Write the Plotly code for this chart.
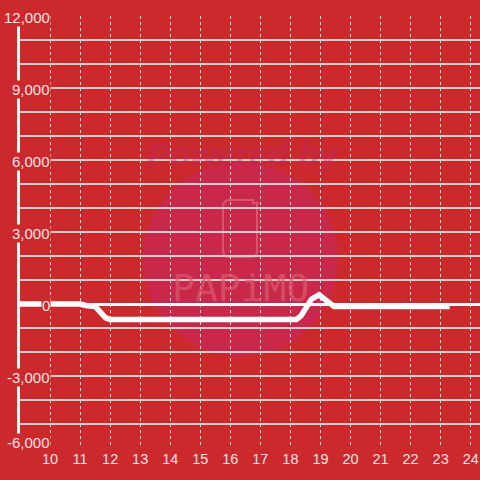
import plotly.graph_objects as go

# hour of day vs. balance
hours = [9.0, 10.0, 11.0, 11.2, 11.5, 11.85, 12.0, 13.0, 14.0, 15.0, 16.0, 17.0, 18.0, 18.2,
         18.35, 18.7, 18.95, 19.45, 20.0, 21.0, 22.0, 23.0, 23.3]
balance = [0, 0, 0, -60, -100, -580, -650, -650, -650, -650, -650, -650, -650, -650,
           -500, 200, 380, -100, -100, -100, -100, -100, -100]

x_ticks = list(range(10, 25))
y_ticks = [-6000, -3000, 0, 3000, 6000, 9000, 12000]

bg = "#cc292d"
txt = "#f3e4e4"

fig = go.Figure()
fig.add_trace(go.Scatter(x=hours, y=balance, mode="lines",
                         line=dict(color="white", width=5.5), hoverinfo="skip"))

# watermark
fig.add_shape(type="circle", xref="paper", yref="paper",
              x0=(143 - 20) / 460, x1=(338 - 20) / 460,
              y0=(448 - 356) / 432, y1=(448 - 162) / 432,
              fillcolor="#c9284a", line=dict(width=0), layer="below")
fig.add_shape(type="path", xref="paper", yref="paper",
              path="M {0},{1} L {0},{2} Q {0},{3} {4},{3} L {5},{3} Q {6},{3} {6},{2} L {6},{7} L {8},{7} L {8},{9} L {4},{9} Q {0},{9} {0},{1} Z".format(
                  (223 - 20) / 460, (448 - 208) / 432, (448 - 250) / 432, (448 - 257) / 432,
                  (229 - 20) / 460, (251 - 20) / 460, (257 - 20) / 460, (448 - 203) / 432,
                  (253 - 20) / 460, (448 - 200) / 432),
              line=dict(color="#d9566a", width=2), fillcolor="rgba(0,0,0,0)", layer="below")
fig.add_annotation(text="<b><i>Powered by</i></b>", xref="paper", yref="paper",
                   x=(243 - 20) / 460, y=(448 - 133) / 432, showarrow=False, opacity=0.35,
                   font=dict(size=34, color="#c02468", family="Liberation Sans"))
fig.add_annotation(text="PAPiMO", xref="paper", yref="paper",
                   x=(240 - 20) / 460, y=(448 - 288) / 432, showarrow=False, opacity=0.7,
                   font=dict(size=38, color="#dc5a70", family="DejaVu Sans Mono"))

# y tick labels with background covering the axis line
for v in y_ticks:
    fig.add_annotation(text=f"{v:,}", xref="paper", yref="y", x=(51 - 20) / 460, y=v,
                       xanchor="right", showarrow=False, bgcolor=bg, borderpad=0,
                       yshift=6 if v == y_ticks[0] else -1.5,
                       font=dict(size=15, color=txt, family="Liberation Sans"))

fig.update_xaxes(range=[9.0, 24.31], tickvals=x_ticks, showgrid=True,
                 gridcolor="#e6e6e6", griddash="dot", gridwidth=1,
                 zeroline=False, showline=False, ticks="",
                 tickfont=dict(size=14.5, color=txt, family="Liberation Sans"))
fig.update_yaxes(range=[-6000, 12000], dtick=1000, showticklabels=False,
                 showgrid=True, gridcolor="#cfcfcf", gridwidth=1.5,
                 zeroline=True, zerolinecolor="white", zerolinewidth=3,
                 showline=True, linecolor="#f2f2f2", linewidth=3)

fig.update_layout(width=480, height=480, paper_bgcolor=bg, plot_bgcolor=bg,
                  margin=dict(l=20, r=0, t=16, b=32), showlegend=False)

# the page body has an 8px default margin; drop it so the chart sits at the corner
fig.write_html("out.html", config={"displayModeBar": False},
               post_script="document.body.style.margin='0';")
